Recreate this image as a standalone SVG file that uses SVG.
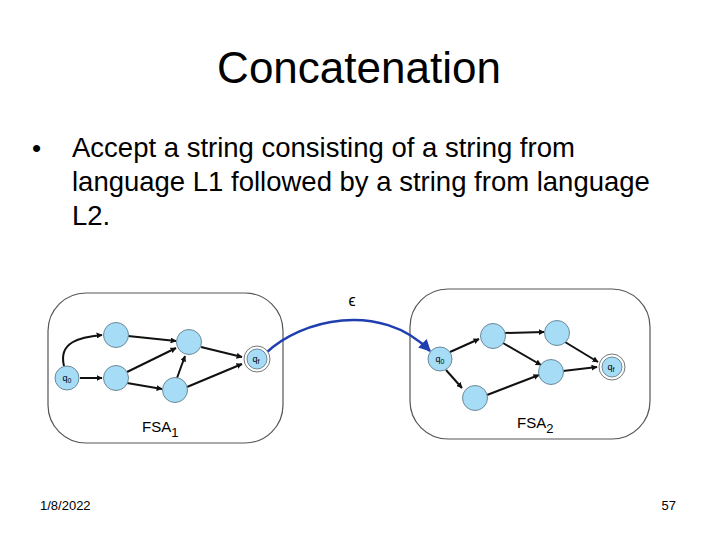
<svg xmlns="http://www.w3.org/2000/svg" width="720" height="540" viewBox="0 0 720 540">
<style>
text{font-family:"Liberation Sans",Arial,sans-serif;fill:#000}
.box{fill:#fff;stroke:#555;stroke-width:1.2}
.n{fill:#a6dcf5;stroke:#6a8a9a;stroke-width:1}
.e{fill:none;stroke:#111;stroke-width:2;marker-end:url(#a)}
.s{font-size:9px}
</style>
<defs>
<marker id="a" viewBox="0 0 10 10" refX="9" refY="5" markerWidth="6" markerHeight="6" orient="auto" markerUnits="userSpaceOnUse" ><path d="M0,0L10,5L0,10z" fill="#111"/></marker>
<marker id="b" viewBox="0 0 10 10" refX="9" refY="5" markerWidth="12" markerHeight="12" orient="auto" markerUnits="userSpaceOnUse"><path d="M0,0L10,5L0,10z" fill="#1f3fb0"/></marker>
</defs>
<rect width="720" height="540" fill="#fff"/>
<text x="359" y="83" font-size="44" text-anchor="middle">Concatenation</text>
<text x="32" y="157" font-size="26">•</text>
<text font-size="27.5"><tspan x="72" y="157">Accept a string consisting of a string from</tspan><tspan x="72" y="191">language L1 followed by a string from language</tspan><tspan x="72" y="225">L2.</tspan></text>
<g id="fsa1">
<rect class="box" x="48" y="293" width="235" height="150" rx="38"/>
<text x="142" y="432" font-size="15">FSA<tspan font-size="13" dy="5">1</tspan></text>
</g>
<g id="fsa2">
<rect class="box" x="410" y="289" width="240" height="150" rx="38"/>
<text x="517" y="428" font-size="15">FSA<tspan font-size="13" dy="5">2</tspan></text>
</g>
<g id="connectors">
<path class="e" d="M64,366C58,342 80,337 102,335"/>
<path class="e" d="M80,378L102,378"/>
<path class="e" d="M128,336L176,341"/>
<path class="e" d="M127,372L176,348"/>
<path class="e" d="M127,383L162,389"/>
<path class="e" d="M177,378L185,356"/>
<path class="e" d="M201,347L242,357"/>
<path class="e" d="M187,387L242,364"/>
<path class="e" d="M450,352L479,339"/>
<path class="e" d="M446,370L462,388"/>
<path class="e" d="M505,333L544,332"/>
<path class="e" d="M503,343L541,365"/>
<path class="e" d="M487,395L539,375"/>
<path class="e" d="M565,342L598,362"/>
<path class="e" d="M563,371L597,367"/>
<path d="M266,353C300,320 380,300 430,351" fill="none" stroke="#1f3fb0" stroke-width="2.5" marker-end="url(#b)"/>
<text x="352" y="306" font-size="16" text-anchor="middle">ϵ</text>
</g>
<g id="q0a"><circle class="n" cx="67" cy="378" r="12"/><text class="s" x="67" y="381" text-anchor="middle">q<tspan font-size="7" dy="2">0</tspan></text></g>
<g id="a1"><circle class="n" cx="116" cy="335" r="12.5"/></g>
<g id="a2"><circle class="n" cx="116" cy="378" r="12.5"/></g>
<g id="a3"><circle class="n" cx="189" cy="342" r="12.5"/></g>
<g id="a4"><circle class="n" cx="175" cy="390" r="12.5"/></g>
<g id="qfa"><circle cx="257" cy="359" r="13" fill="#fff" stroke="#777"/><circle class="n" cx="257" cy="359" r="10"/><text class="s" x="256" y="362" text-anchor="middle">q<tspan font-size="7" dy="2">f</tspan></text></g>
<g id="q0b"><circle class="n" cx="440" cy="359" r="12"/><text class="s" x="440" y="362" text-anchor="middle">q<tspan font-size="7" dy="2">0</tspan></text></g>
<g id="b1"><circle class="n" cx="493" cy="336" r="12.5"/></g>
<g id="b2"><circle class="n" cx="475" cy="398" r="12.5"/></g>
<g id="b3"><circle class="n" cx="557" cy="333" r="12.5"/></g>
<g id="b4"><circle class="n" cx="551" cy="372" r="12.5"/></g>
<g id="qfb"><circle cx="612" cy="367" r="13" fill="#fff" stroke="#777"/><circle class="n" cx="612" cy="367" r="10"/><text class="s" x="611" y="370" text-anchor="middle">q<tspan font-size="7" dy="2">f</tspan></text></g>
<text x="40" y="510" font-size="13">1/8/2022</text>
<text x="676" y="510" font-size="13" text-anchor="end">57</text>
</svg>
